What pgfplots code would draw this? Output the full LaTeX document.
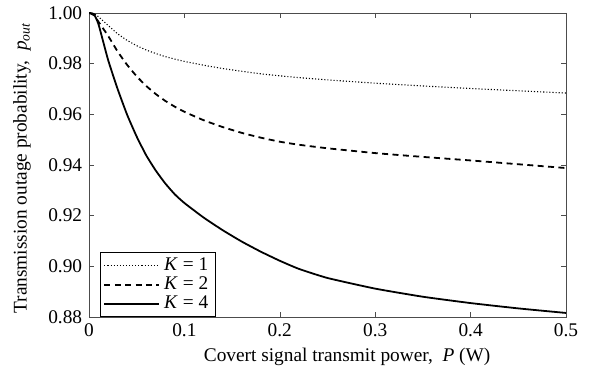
\documentclass[border=0pt]{standalone}
\usepackage{pgfplots}
\pgfplotsset{compat=1.18}
\usepackage{fontspec}
\setmainfont{Liberation Serif}
\newcommand{\fs}{\fontsize{9.7pt}{11pt}\selectfont}
\begin{document}
\fs
\begin{tikzpicture}
\begin{axis}[
  scale only axis,
  width=238.5bp, height=152bp,
  xmin=0, xmax=0.5, ymin=0.88, ymax=1.0,
  xtick={0,0.1,0.2,0.3,0.4,0.5},
  ytick={0.88,0.90,0.92,0.94,0.96,0.98,1.00},
  tick align=inside,
  major tick length=2.5pt,
  axis line style={black!70},
  tick style={black!70},
  /pgf/number format/assume math mode=true,
  xticklabel style={/pgf/number format/.cd, fixed, precision=1},
  yticklabel style={/pgf/number format/.cd, fixed, fixed zerofill, precision=2},
  ticklabel style={font=\fs},
  xlabel={Covert signal transmit power, \ \textit{P} (W)},
  ylabel={Transmission outage probability, \ \textit{p}\textsubscript{\textit{out}}},
  label style={font=\fs},
  xlabel style={at={(axis description cs:0.541,-0.1316)}, anchor=center},
  ylabel style={at={(axis description cs:-0.1405,0.49)}, anchor=center},
  legend style={at={(0.023,0)}, anchor=south west, draw=black, line width=0.5pt,
    font=\fs, inner xsep=1.5pt, inner ysep=0.5pt, row sep=-2.3pt},
  legend cell align=left,
  legend image code/.code={\draw[#1] (0pt,0pt) -- (27.5bp,0pt);},
]
\addplot[black, line width=0.55pt, densely dotted, smooth, tension=0.3] coordinates {
(0,1.0) (0.005,0.9998) (0.01,0.9985) (0.02,0.9951) (0.03,0.9918) (0.04,0.9892) (0.05,0.9871)
(0.06,0.9854) (0.07,0.9840) (0.08,0.9828) (0.09,0.9818) (0.10,0.9809) (0.12,0.9794)
(0.14,0.9781) (0.16,0.9770) (0.18,0.9760) (0.20,0.9752) (0.22,0.9745) (0.25,0.9736)
(0.30,0.9723) (0.35,0.9712) (0.40,0.9702) (0.45,0.9693) (0.50,0.9684)};
\addlegendentry{\textit{K} = 1}
\addplot[black, line width=0.9pt, dash pattern=on 3bp off 2.2bp, smooth, tension=0.3] coordinates {
(0,1.0) (0.005,0.9992) (0.01,0.9965) (0.02,0.9910) (0.03,0.9848) (0.04,0.9795) (0.05,0.9750)
(0.06,0.9712) (0.07,0.9680) (0.08,0.9653) (0.09,0.9630) (0.10,0.9610) (0.12,0.9577)
(0.14,0.9550) (0.16,0.9527) (0.18,0.9508) (0.20,0.9492) (0.22,0.9480) (0.25,0.9466)
(0.30,0.9447) (0.35,0.9432) (0.40,0.9418) (0.45,0.9403) (0.50,0.9388)};
\addlegendentry{\textit{K} = 2}
\addplot[black, line width=0.9pt, smooth, tension=0.3] coordinates {
(0,1.0) (0.005,0.9996) (0.01,0.9955) (0.02,0.9815) (0.03,0.9700) (0.04,0.9598)
(0.05,0.9512) (0.06,0.9438) (0.07,0.9378) (0.08,0.9327) (0.09,0.9284) (0.10,0.9250)
(0.12,0.9193) (0.14,0.9143) (0.16,0.9098) (0.18,0.9058) (0.20,0.9022) (0.22,0.8990)
(0.25,0.8954) (0.30,0.8912) (0.35,0.8880) (0.40,0.8855) (0.45,0.8834) (0.50,0.8816)};
\addlegendentry{\textit{K} = 4}
\coordinate (ll) at (rel axis cs:0,0);
\coordinate (ur) at (rel axis cs:1,1);
\end{axis}
\path (ll) ++(-44.5bp,-29.5bp);
\path (ur) ++(12.5bp,4bp);
\end{tikzpicture}
\end{document}
